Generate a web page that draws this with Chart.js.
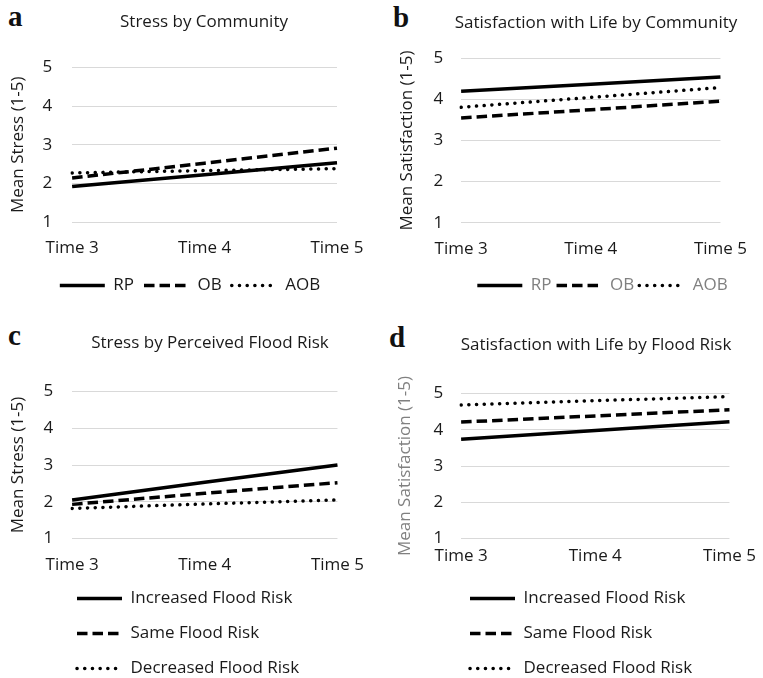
<!DOCTYPE html>
<html>
<head>
<meta charset="utf-8">
<title>Stress and satisfaction by community and flood risk</title>
<script src="https://cdn.jsdelivr.net/npm/chart.js@4.4.1/dist/chart.umd.min.js"></script>
<style>
  html, body { margin: 0; padding: 0; background: #fff; overflow: hidden; }
  body { width: 763px; height: 678px; position: relative; }
  canvas { position: absolute; }
  .letter { position: absolute; font-family: "Liberation Serif", "DejaVu Serif", serif; font-weight: bold; font-size: 29px; line-height: 28px; color: #111; }
</style>
</head>
<body>
<div class="letter" style="left:8px; top:2px;">a</div>
<div class="letter" style="left:393px; top:3px;">b</div>
<div class="letter" style="left:8px; top:321px;">c</div>
<div class="letter" style="left:389px; top:323px;">d</div>

<canvas id="chart-a" width="380" height="304" style="left:0; top:0;"></canvas>
<canvas id="chart-b" width="383" height="304" style="left:380px; top:0;"></canvas>
<canvas id="chart-c" width="380" height="357" style="left:0; top:330px;"></canvas>
<canvas id="chart-d" width="383" height="357" style="left:380px; top:330px;"></canvas>

<script>
// --- data ---
const timeLabels = ['Time 3', 'Time 4', 'Time 5'];

const communityNames = ['RP', 'OB', 'AOB'];
const stressRP  = [1.92, 2.22, 2.53];
const stressOB  = [2.14, 2.52, 2.91];
const stressAOB = [2.27, 2.33, 2.38];
const satisRP   = [4.20, 4.37, 4.55];
const satisOB   = [3.55, 3.75, 3.96];
const satisAOB  = [3.81, 4.05, 4.29];

const riskNames = ['Increased Flood Risk', 'Same Flood Risk', 'Decreased Flood Risk'];
const stressIncreased = [2.05, 2.53, 3.00];
const stressSame      = [1.93, 2.23, 2.52];
const stressDecreased = [1.82, 1.94, 2.05];
const satisIncreased  = [3.74, 3.98, 4.22];
const satisSame       = [4.21, 4.38, 4.55];
const satisDecreased  = [4.68, 4.80, 4.91];

const yMin = 1, yMax = 5, yStep = 1;

// --- styles ---
const TEXT = '#1a1a1a';
const GRAY = '#808080';
const GRID = '#d9d9d9';
const lineStyles = [
    { borderDash: [], borderCapStyle: 'butt' },         // solid
    { borderDash: [10.5, 5], borderCapStyle: 'butt' },  // dashed
    { borderDash: [0.1, 7.6], borderCapStyle: 'round' } // round dots
];

Chart.defaults.font.family = "'Open Sans', sans-serif";
Chart.defaults.font.size = 17;
Chart.defaults.color = TEXT;

// slides title and legend sideways, plot area stays where it is
const boxShift = {
    id: 'boxShift',
    afterLayout(chart, args, opts) {
        const move = (box, dx) => { if (box && dx) { box.left += dx; box.right += dx; } };
        move(chart.legend, opts.legendDx);
        move(chart.titleBlock, opts.titleDx);
    }
};

function makeDatasets(names, series) {
    return series.map((values, i) => ({
        label: names[i],
        data: values,
        borderColor: '#000',
        backgroundColor: '#000',
        borderWidth: 3.5,
        borderDash: lineStyles[i].borderDash,
        borderCapStyle: lineStyles[i].borderCapStyle,
        pointRadius: 0,
        tension: 0
    }));
}

function makePanel(id, p) {
    const ctx = document.getElementById(id).getContext('2d');
    return new Chart(ctx, {
        type: 'line',
        data: { labels: timeLabels, datasets: makeDatasets(p.names, p.series) },
        plugins: [boxShift],
        options: {
            responsive: false,
            animation: false,
            layout: { padding: { top: 0, left: 0, right: p.right, bottom: 0 } },
            plugins: {
                tooltip: { enabled: false },
                title: {
                    display: true,
                    text: p.title,
                    color: TEXT,
                    font: { size: 17, weight: 'normal' },
                    padding: p.titlePad
                },
                legend: {
                    position: 'bottom',
                    align: p.legendAlign,
                    labels: {
                        color: p.legendColor,
                        usePointStyle: true,
                        pointStyleWidth: 45,
                        padding: p.legendPad,
                        font: { size: 17 },
                        generateLabels: (chart) => chart.data.datasets.map((ds, i) => ({
                            text: ds.label,
                            fillStyle: ds.borderColor,
                            strokeStyle: ds.borderColor,
                            lineWidth: ds.borderWidth,
                            lineDash: ds.borderDash,
                            lineCap: ds.borderCapStyle,
                            pointStyle: 'line',
                            fontColor: p.legendColor,
                            hidden: false,
                            datasetIndex: i
                        }))
                    }
                },
                boxShift: { legendDx: p.legendDx, titleDx: p.titleDx }
            },
            scales: {
                x: {
                    grid: { display: false, drawTicks: false },
                    border: { display: false },
                    ticks: { padding: p.xTickPad, color: TEXT, maxRotation: 0 },
                    // Chart.js reserves the tick padding twice; keep it once
                    afterFit: (scale) => { scale.height += p.xExtra - p.xTickPad; }
                },
                y: {
                    min: yMin,
                    max: yMax,
                    grid: { color: GRID, lineWidth: 1, drawTicks: false },
                    border: { display: false },
                    ticks: { stepSize: yStep, padding: p.yTickPad, color: TEXT },
                    title: {
                        display: true,
                        text: p.yTitle,
                        color: p.yTitleColor,
                        font: { size: 17 },
                        padding: p.yTitlePad
                    },
                    afterFit: (scale) => { scale.width -= p.yTickPad; }
                }
            }
        }
    });
}

makePanel('chart-a', {
    title: 'Stress by Community', yTitle: 'Mean Stress (1-5)',
    names: communityNames, series: [stressRP, stressOB, stressAOB],
    titlePad: { top: 12, bottom: 35 }, titleDx: 35.5,
    yTitlePad: { top: 8, bottom: 14 }, yTickPad: 20,
    xTickPad: 16, xExtra: 8.6, right: 43,
    legendAlign: 'center', legendPad: 10, legendDx: 21.5,
    legendColor: TEXT, yTitleColor: TEXT
});

makePanel('chart-b', {
    title: 'Satisfaction with Life by Community', yTitle: 'Mean Satisfaction (1-5)',
    names: communityNames, series: [satisRP, satisOB, satisAOB],
    titlePad: { top: 13, bottom: 25 }, titleDx: 44.5,
    yTitlePad: { top: 17, bottom: 16 }, yTickPad: 18,
    xTickPad: 16, xExtra: 12.9, right: 40,
    legendAlign: 'center', legendPad: 5, legendDx: 51,
    legendColor: GRAY, yTitleColor: TEXT
});

makePanel('chart-c', {
    title: 'Stress by Perceived Flood Risk', yTitle: 'Mean Stress (1-5)',
    names: riskNames, series: [stressIncreased, stressSame, stressDecreased],
    titlePad: { top: 3, bottom: 38 }, titleDx: 40,
    yTitlePad: { top: 8, bottom: 15 }, yTickPad: 19,
    xTickPad: 16, xExtra: -3, right: 40,
    legendAlign: 'start', legendPad: 18, legendDx: 59,
    legendColor: TEXT, yTitleColor: TEXT
});

makePanel('chart-d', {
    title: 'Satisfaction with Life by Flood Risk', yTitle: 'Mean Satisfaction (1-5)',
    names: riskNames, series: [satisIncreased, satisSame, satisDecreased],
    titlePad: { top: 5, bottom: 38 }, titleDx: 38.5,
    yTitlePad: { top: 15, bottom: 18 }, yTickPad: 18,
    xTickPad: 7, xExtra: 6, right: 28,
    legendAlign: 'start', legendPad: 18, legendDx: 72,
    legendColor: TEXT, yTitleColor: GRAY
});
</script>
</body>
</html>
